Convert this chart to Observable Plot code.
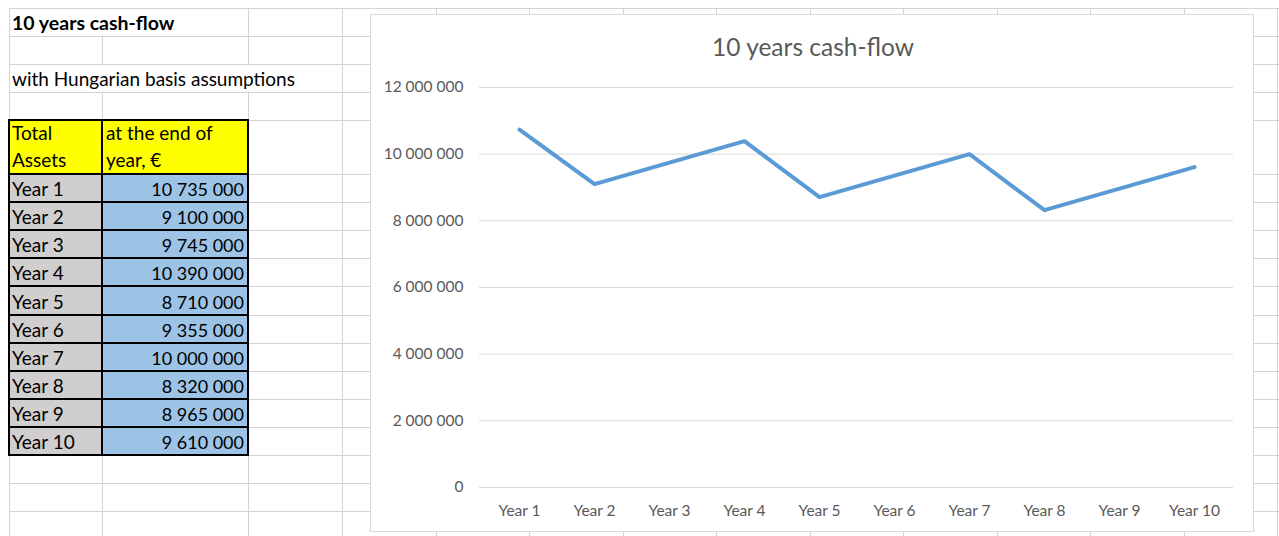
<!DOCTYPE html>
<html><head><meta charset="utf-8">
<script src="https://cdn.jsdelivr.net/npm/d3@7"></script>
<script src="https://cdn.jsdelivr.net/npm/@observablehq/plot@0.6"></script>
<style>
html,body{margin:0;padding:0;background:#fff;}
#page{position:relative;width:1279px;height:536px;overflow:hidden;font-family:Lato,"Open Sans",sans-serif;}
#sheet{position:absolute;left:0;top:0;}
#chart{position:absolute;left:371px;top:15px;width:882px;height:516px;background:#fff;outline:1px solid #d9d9d9;}
#chart-title{position:absolute;left:0;width:884px;top:21px;text-align:center;font-size:24.5px;line-height:22px;color:#595959;}
#plot{position:absolute;left:0;top:0;}
</style></head><body>
<div id="page"><svg id="sheet" width="1279" height="536"></svg>
<div id="chart"><div id="plot"></div><div id="chart-title"></div></div></div>
<script>
const sheetTitle = "10 years cash-flow";
const sheetSubtitle = "with Hungarian basis assumptions";
const headerA = ["Total", "Assets"];
const headerB = ["at the end of", "year, €"];
const years = ["Year 1","Year 2","Year 3","Year 4","Year 5","Year 6","Year 7","Year 8","Year 9","Year 10"];
const values = [10735000, 9100000, 9745000, 10390000, 8710000, 9355000, 10000000, 8320000, 8965000, 9610000];
const yTicks = [0, 2000000, 4000000, 6000000, 8000000, 10000000, 12000000];
const chartTitle = "10 years cash-flow";

const fmt = v => d3.format(",")(v).replace(/,/g, "\u00a0");

// ---------- spreadsheet background ----------
const svg = d3.select("#sheet");
const rowY = [8, 36, 64, 92, 120].concat(d3.range(11).map(i => 174 + i * 28.1)).concat([483, 511, 539]);
const colX = [9, 102, 248, 342, 435.5, 529, 622.5, 716, 809.5, 903, 996.5, 1090, 1183.5, 1277];
const px = v => Math.round(v) + 0.5;
const grid = svg.append("g").attr("stroke", "#d4d4d4").attr("stroke-width", 1);
rowY.forEach(y => grid.append("line").attr("x1", 9).attr("x2", 1279).attr("y1", px(y)).attr("y2", px(y)));
colX.forEach(x => grid.append("line").attr("x1", px(x)).attr("x2", px(x)).attr("y1", 8).attr("y2", 536));
// overflow text hides gridlines
svg.append("rect").attr("x", 100).attr("y", 9.5).attr("width", 5).attr("height", 26).attr("fill", "#fff");
svg.append("rect").attr("x", 100).attr("y", 65.5).attr("width", 5).attr("height", 26).attr("fill", "#fff");
svg.append("rect").attr("x", 246).attr("y", 65.5).attr("width", 5).attr("height", 26).attr("fill", "#fff");

// table fills
const x0 = 9, x1 = 102, x2 = 248;
svg.append("rect").attr("x", x0).attr("y", 120).attr("width", x2 - x0).attr("height", 54).attr("fill", "#ffff00");
years.forEach((yr, i) => {
  const top = 174 + i * 28.1;
  svg.append("rect").attr("x", x0).attr("y", top).attr("width", x1 - x0).attr("height", 28.1).attr("fill", "#d0cece");
  svg.append("rect").attr("x", x1).attr("y", top).attr("width", x2 - x1).attr("height", 28.1).attr("fill", "#9dc3e6");
});
// black borders
const bd = svg.append("g").attr("stroke", "#000").attr("stroke-width", 2);
const bRows = [120].concat(d3.range(11).map(i => 174 + i * 28.1));
bRows.forEach(y => bd.append("line").attr("x1", x0 - 1).attr("x2", x2 + 1).attr("y1", Math.round(y)).attr("y2", Math.round(y)));
[x0, x1, x2].forEach(x => bd.append("line").attr("x1", x).attr("x2", x).attr("y1", 119).attr("y2", Math.round(174 + 10 * 28.1) + 1));

// texts
const tx = svg.append("g").attr("font-family", "Lato, sans-serif").attr("font-size", 19).attr("fill", "#000");
tx.append("text").attr("x", 12).attr("y", 30).attr("font-weight", "bold").attr("font-size", 19.5).text(sheetTitle);
tx.append("text").attr("x", 12).attr("y", 86).text(sheetSubtitle);
headerA.forEach((t, i) => tx.append("text").attr("x", 12).attr("y", 140 + i * 27).text(t));
headerB.forEach((t, i) => tx.append("text").attr("x", 106).attr("y", 140 + i * 27).text(t));
years.forEach((yr, i) => {
  const base = 174 + (i + 1) * 28.1 - 6;
  tx.append("text").attr("x", 12).attr("y", base).text(yr);
  tx.append("text").attr("x", 244).attr("y", base).attr("text-anchor", "end").attr("font-size", 18).text(fmt(values[i]));
});

// ---------- chart ----------
document.getElementById("chart-title").textContent = chartTitle;
const data = years.map((year, i) => ({year, value: values[i]}));
const chart = Plot.plot({
  width: 882, height: 516,
  marginLeft: 108, marginRight: 20, marginTop: 72, marginBottom: 44,
  style: {fontFamily: "Lato, sans-serif", fontSize: "15.5px", color: "#595959", background: "transparent"},
  x: {type: "point", domain: years, padding: 0.5, label: null},
  y: {domain: [0, 12000000], label: null},
  marks: [
    Plot.gridY(yTicks, {stroke: "#d9d9d9", strokeOpacity: 1, strokeWidth: 1}),
    Plot.axisY(yTicks, {tickSize: 0, tickPadding: 16, tickFormat: fmt, label: null}),
    Plot.axisX({tickSize: 0, tickPadding: 17, label: null}),
    Plot.line(data, {x: "year", y: "value", stroke: "#5b9bd5", strokeWidth: 4, strokeLinecap: "round", strokeLinejoin: "round"})
  ]
});
document.getElementById("plot").appendChild(chart);
</script>
</body></html>
